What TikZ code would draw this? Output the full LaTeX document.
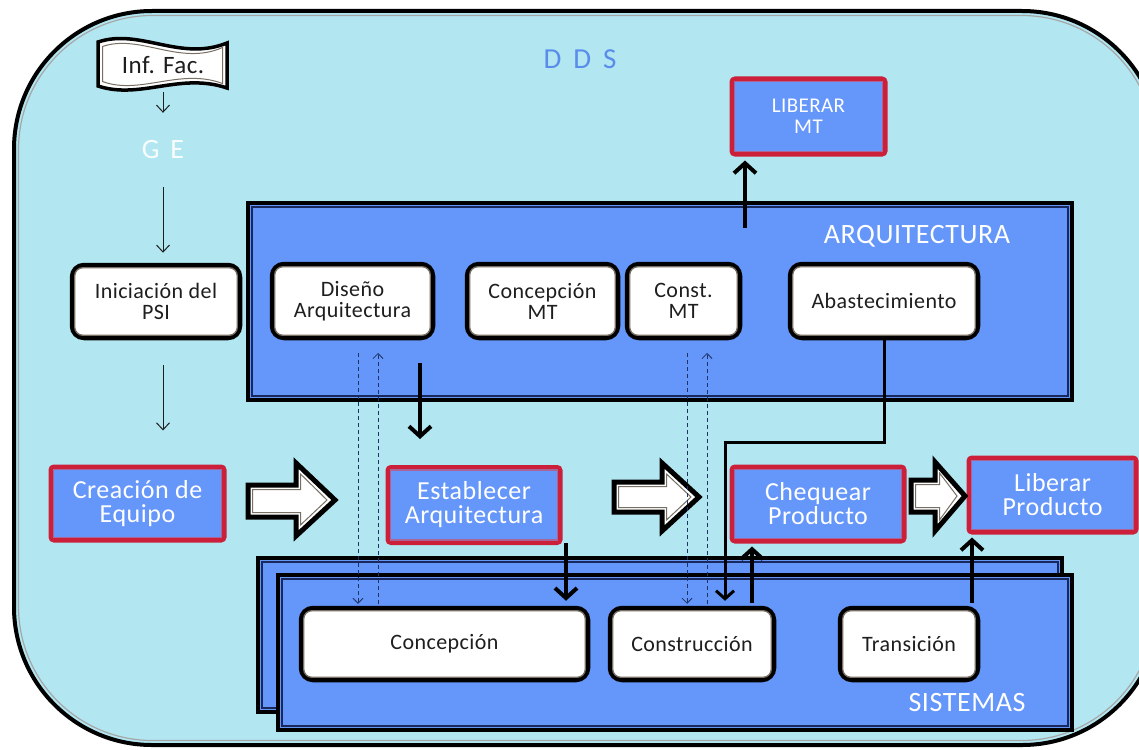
\documentclass[tikz,border=0pt]{standalone}
\usepackage{fontspec}
\setmainfont{Carlito}[LetterSpace=2]
\usetikzlibrary{arrows.meta}

\definecolor{sky}{RGB}{178,231,242}
\definecolor{boxblue}{RGB}{101,150,250}
\definecolor{boxred}{RGB}{204,32,58}
\definecolor{redinner}{RGB}{170,100,150}
\definecolor{navy}{RGB}{25,40,90}
\definecolor{ink}{RGB}{30,30,30}
\definecolor{innergray}{RGB}{120,112,100}
\definecolor{ddsblue}{RGB}{90,140,235}
\definecolor{dashblue}{RGB}{30,50,100}

% block arrow: x0, head base x, tip x, shaft top, shaft bottom, head top, head bottom, mid y
\newcommand\blockarrow[8]{%
  \draw[line width=5pt, fill=white, line join=miter]
    (#1,#4) -- (#2,#4) -- (#2,#6) -- (#3,#8) -- (#2,#7) -- (#2,#5) -- (#1,#5) -- cycle;
  \draw[line width=1pt, draw=innergray, line join=miter]
    ({#1+4.5},{#4+4.5}) -- ({#2+4.5},{#4+4.5}) -- ({#2+4.5},{#6+11}) -- ({#3-8},#8)
    -- ({#2+4.5},{#7-11}) -- ({#2+4.5},{#5-4.5}) -- ({#1+4.5},{#5-4.5}) -- cycle;
}

\tikzset{
  wbox/.style={draw=black, line width=4.5pt, fill=white, rounded corners=12pt,
    text=ink, align=center, inner sep=0pt, font=\fontsize{22}{21}\selectfont},
  wline/.style={draw=innergray, line width=1.3pt, rounded corners=8pt},
  rbox/.style={draw=boxred, line width=5pt, fill=boxblue, rounded corners=3pt,
    text=white, align=center, inner sep=0pt, font=\fontsize{26}{24}\selectfont},
  rline/.style={draw=redinner, line width=1.2pt},
  bluepanel/.style={draw=black, line width=4pt, fill=boxblue, inner sep=0pt},
  pline/.style={draw=navy, line width=1.3pt},
  paneltitle/.style={text=white, font=\fontsize{28}{28}\selectfont},
  thinarr/.style={draw=ink, line width=1pt, -{Straight Barb[length=7pt,width=13pt]}},
  bigarrow/.style={draw=black, line width=4pt, -{Straight Barb[length=10pt,width=22pt]}},
  feedline/.style={draw=black, line width=3pt, -{Straight Barb[length=8pt,width=18pt]}},
  dasharr/.style={draw=dashblue, line width=0.8pt, dash pattern=on 4pt off 3pt,
    -{Straight Barb[length=5pt,width=10pt]}},
}

\begin{document}
\begin{tikzpicture}[x=1pt,y=-1pt]
\useasboundingbox (0,0) rectangle (1139,749);
\clip (0,0) rectangle (1139,749);
\fill[white] (0,0) rectangle (1139,749);

% outer rounded frame
\draw[line width=4pt, fill=sky, rounded corners=138pt] (14,11) rectangle (1160,745);
\draw[line width=1.2pt, draw=gray!70, rounded corners=134pt] (18.5,15.5) rectangle (1155.5,740.5);

% title texts
\node[text=ddsblue, font=\fontsize{29}{29}\selectfont] (dds) at (580,59) {D\hspace{12pt}D\hspace{12pt}S};

% Inf. Fac. banner
\draw[line width=3.5pt, fill=white]
  (98,42) .. controls (140,28) and (180,62) .. (227,43) -- (227,88)
  .. controls (180,72) and (140,100) .. (98,86) -- cycle;
\draw[line width=1pt, draw=innergray]
  (102.5,46.5) .. controls (140,33.5) and (180,66.5) .. (222.5,47.5) -- (222.5,83.5)
  .. controls (180,67.5) and (140,95.5) .. (102.5,81.5) -- cycle;
\node[text=ink, font=\fontsize{25}{25}\selectfont, minimum width=129pt,
  minimum height=50pt, inner sep=0pt] (inf) at (163,65) {Inf. Fac.};

\node[text=white!94!sky, font=\fontsize{28}{28}\selectfont, minimum height=74pt,
  inner sep=0pt] (ge) at (163,150) {G\hspace{11pt}E};

% ARQUITECTURA panel
\node[bluepanel, minimum width=824pt, minimum height=197pt] (arq) at (660,301.5) {};
\draw[pline] ([shift={(6pt,6pt)}]arq.south west) rectangle ([shift={(-6pt,-6pt)}]arq.north east);
\node[paneltitle] (arqtitle) at (917,236) {ARQUITECTURA};

% SISTEMAS panels
\node[bluepanel, minimum width=804pt, minimum height=154pt] (sisb) at (660,635) {};
\draw[pline] ([shift={(6pt,6pt)}]sisb.south west) rectangle ([shift={(-6pt,-6pt)}]sisb.north east);
\node[bluepanel, minimum width=794pt, minimum height=155pt] (sisf) at (675,652.5) {};
\draw[pline] ([shift={(6pt,6pt)}]sisf.south west) rectangle ([shift={(-6pt,-6pt)}]sisf.north east);
\node[paneltitle] (sistitle) at (967,703) {SISTEMAS};

% white activity boxes
\node[wbox, minimum width=168pt, minimum height=73pt] (ini) at (156,301.5) {Iniciación del\\PSI};
\node[wbox, minimum width=161pt, minimum height=74pt] (dis) at (352.5,301) {Diseño\\Arquitectura};
\node[wbox, minimum width=151pt, minimum height=74pt] (cmt) at (542.5,301) {Concepción\\MT};
\node[wbox, minimum width=113pt, minimum height=74pt] (cst) at (683.5,301) {Const.\\MT};
\node[wbox, minimum width=188pt, minimum height=74pt] (aba) at (884,301) {Abastecimiento};
\node[wbox, minimum width=287pt, minimum height=72pt] (con) at (444.5,644) {Concepción};
\node[wbox, minimum width=164pt, minimum height=72pt] (cns) at (692,644) {Construcción};
\node[wbox, minimum width=138pt, minimum height=72pt] (tra) at (909,644) {Transición};
\foreach \n in {ini,dis,cmt,cst,aba,con,cns,tra}
  \draw[wline] ([shift={(5pt,5pt)}]\n.south west) rectangle ([shift={(-5pt,-5pt)}]\n.north east);

% red-framed milestone boxes
\node[rbox, minimum width=173pt, minimum height=73pt] (cre) at (137.5,503.5) {Creación de\\Equipo};
\node[rbox, minimum width=172pt, minimum height=75pt] (est) at (474,505) {Establecer\\Arquitectura};
\node[rbox, minimum width=172pt, minimum height=74pt] (chq) at (818,504) {Chequear\\Producto};
\node[rbox, minimum width=167pt, minimum height=74pt] (lib) at (1052.5,495) {Liberar\\Producto};
\node[rbox, minimum width=153pt, minimum height=75pt, font=\fontsize{21}{21}\selectfont] (lmt) at (808.5,116.5) {LIBERAR\\MT};
\foreach \n in {cre,est,chq,lib,lmt}
  \draw[rline] ([shift={(5pt,5pt)}]\n.south west) rectangle ([shift={(-5pt,-5pt)}]\n.north east);

% hollow flow arrows
\blockarrow{248}{296}{335}{485}{517}{463}{536}{500}
\blockarrow{614}{662}{699}{482}{512}{463}{531}{497}
\blockarrow{911}{935}{965}{480}{512}{462}{531}{496}

% thin arrows on the left
\draw[thinarr, shorten <=2pt] (inf.south) -- (ge.north);
\draw[thinarr, shorten >=10pt] (ge.south) -- (ge.south |- ini.north);
\draw[thinarr, shorten <=25pt, shorten >=34pt] (ge.south |- ini.south) -- (ge.south |- cre.north);

% dashed exchanges between the panels
\coordinate (d1) at (358,353);
\coordinate (u1) at (378,353);
\coordinate (d2) at (687,353);
\coordinate (u2) at (707,353);
\draw[dasharr, shorten >=2pt] (d1) -- (d1 |- con.north);
\draw[dasharr, shorten <=2pt] (u1 |- con.north) -- (u1);
\draw[dasharr, shorten >=2pt] (d2) -- (d2 |- cns.north);
\draw[dasharr, shorten <=2pt] (u2 |- cns.north) -- (u2);

% thick arrows
\coordinate (a1) at (420,363);
\draw[bigarrow, shorten >=26pt] (a1) -- (a1 |- est.north);
\coordinate (e1) at (566,543);
\draw[bigarrow, shorten >=5pt] (e1) -- (e1 |- con.north);
\coordinate (m1) at (745,228);
\draw[bigarrow, shorten >=4pt] (m1) -- (m1 |- lmt.south);
\coordinate (c1) at (752,603);
\draw[bigarrow, shorten >=3pt] (c1) -- (c1 |- chq.south);
\coordinate (t1) at (972,603);
\draw[bigarrow, shorten >=3pt] (t1) -- (t1 |- lib.south);

% supply line from Abastecimiento to Construcción
\coordinate (bend) at (725,442);
\draw[feedline, shorten >=5pt] (aba.south) |- (bend) -- (bend |- cns.north);
\end{tikzpicture}
\end{document}
